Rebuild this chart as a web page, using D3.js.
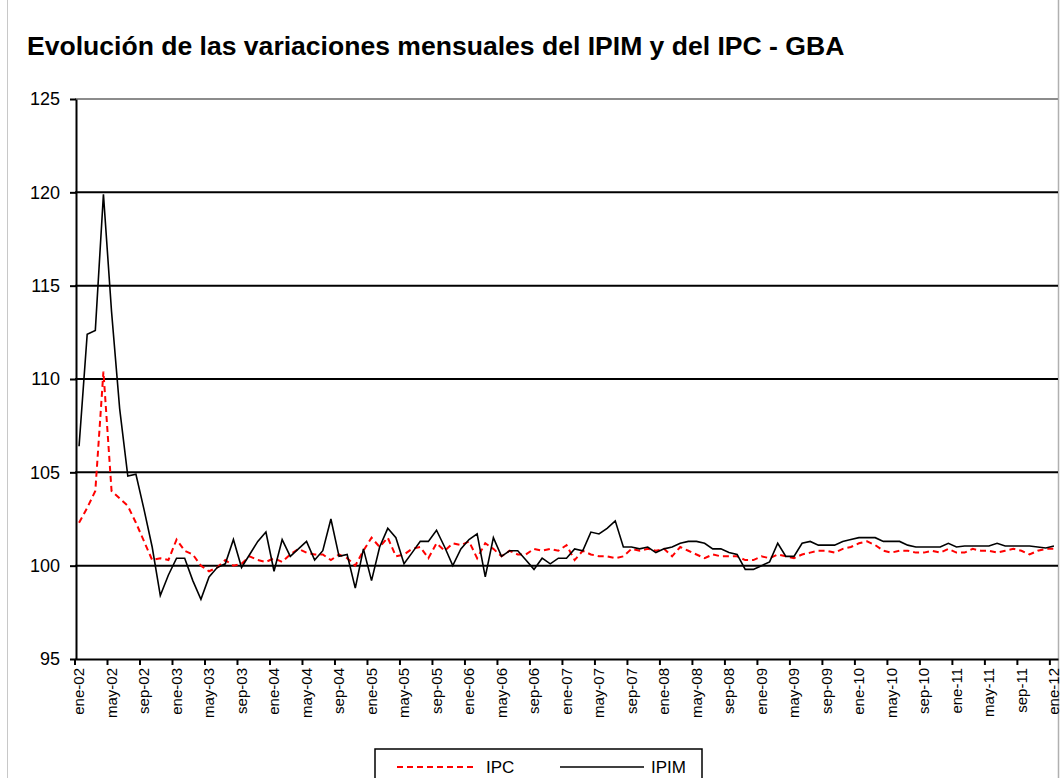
<!DOCTYPE html>
<html>
<head>
<meta charset="utf-8">
<script src="https://d3js.org/d3.v7.min.js"></script>
<title>IPIM e IPC - GBA</title>
<style>
  body { margin: 0; background: #fff; font-family: "Liberation Sans", Arial, sans-serif; }
  svg text { fill: #000; }
</style>
</head>
<body>
<svg id="chart" width="1061" height="778"></svg>
<script>
// month abbreviations and years used to build the category axis
var monthNames = ["ene","feb","mar","abr","may","jun","jul","ago","sep","oct","nov","dic"];
var years = ["02","03","04","05","06","07","08","09","10","11","12"];

// IPC - GBA, monthly variation (index, previous month = 100)
var ipc = [102.3,103.1,104.0,110.4,104.0,103.6,103.2,102.3,101.3,100.3,100.4,100.3,
           101.4,100.8,100.6,100.0,99.7,99.9,100.3,100.0,100.1,100.5,100.3,100.2,
           100.4,100.2,100.6,100.9,100.7,100.6,100.6,100.3,100.6,100.4,100.0,100.8,
           101.5,101.0,101.5,100.5,100.6,100.9,101.0,100.4,101.2,100.8,101.2,101.1,
           101.3,100.4,101.2,100.9,100.5,100.8,100.6,100.6,100.9,100.8,100.9,100.8,
           101.1,100.3,100.8,100.6,100.5,100.5,100.4,100.5,100.9,100.8,100.9,100.8,
           100.9,100.5,101.0,100.8,100.6,100.4,100.6,100.5,100.5,100.5,100.3,100.3,
           100.5,100.4,100.6,100.5,100.4,100.6,100.7,100.8,100.8,100.7,100.9,101.0,
           101.2,101.3,101.1,100.8,100.7,100.8,100.8,100.7,100.7,100.8,100.7,100.9,
           100.7,100.7,100.9,100.8,100.8,100.7,100.8,100.9,100.8,100.6,100.8,100.9,
           100.9];

// IPIM, monthly variation (index, previous month = 100)
var ipim = [106.4,112.4,112.6,119.9,113.6,108.4,104.8,104.9,103.0,101.0,98.4,99.5,
            100.4,100.4,99.2,98.2,99.4,99.9,100.1,101.4,99.9,100.6,101.3,101.8,
            99.7,101.4,100.5,100.9,101.3,100.3,100.8,102.5,100.5,100.6,98.8,100.9,
            99.2,101.0,102.0,101.5,100.1,100.7,101.3,101.3,101.9,101.0,100.0,100.9,
            101.4,101.7,99.4,101.5,100.5,100.8,100.8,100.3,99.8,100.4,100.1,100.4,
            100.4,100.9,100.8,101.8,101.7,102.0,102.4,101.0,101.0,100.9,101.0,100.7,
            100.9,101.0,101.2,101.3,101.3,101.2,100.9,100.9,100.7,100.6,99.8,99.8,
            100.0,100.2,101.2,100.5,100.5,101.2,101.3,101.1,101.1,101.1,101.3,101.4,
            101.5,101.5,101.5,101.3,101.3,101.3,101.1,101.0,101.0,101.0,101.0,101.2,
            101.0,101.05,101.05,101.05,101.05,101.2,101.05,101.05,101.05,101.05,101.0,100.95,
            101.05];

var yTicks = [95, 100, 105, 110, 115, 120, 125];
var seriesNames = ["IPC", "IPIM"];
var titleText = "Evolución de las variaciones mensuales del IPIM y del IPC - GBA";

// categories "ene-02" ... "ene-12"
var months = [];
years.forEach(function(y) {
  monthNames.forEach(function(m) { months.push(m + "-" + y); });
});
months = months.slice(0, ipim.length);

var svg = d3.select("#chart");

var x = d3.scaleBand().domain(months).range([75, 1058]).padding(0);
var y = d3.scaleLinear().domain([95, 125]).range([659, 99]);
var bw = x.bandwidth();

// sheet borders
svg.append("line").attr("x1", 7.5).attr("x2", 7.5).attr("y1", 0).attr("y2", 778)
  .attr("stroke", "#c8c8c8").attr("stroke-width", 1);
svg.append("line").attr("x1", 1058.5).attr("x2", 1058.5).attr("y1", 0).attr("y2", 778)
  .attr("stroke", "#b0b0b0").attr("stroke-width", 1.5);

// title, fitted to the width it takes in the original
var title = svg.append("text")
  .attr("x", 27).attr("y", 55)
  .style("font-weight", "bold")
  .style("font-size", "20px")
  .text(titleText);
var tw = title.node().getComputedTextLength();
title.style("font-size", (20 * 818 / tw) + "px");

// gridlines
svg.append("g").selectAll("line")
  .data(yTicks.filter(function(t) { return t > 95; }))
  .enter().append("line")
  .attr("x1", 75).attr("x2", 1058)
  .attr("y1", function(d) { return y(d); })
  .attr("y2", function(d) { return y(d); })
  .attr("stroke", function(d) { return d == 125 ? "#8c8c8c" : "#000"; })
  .attr("stroke-width", 2);

// y axis
var yAxis = svg.append("g")
  .attr("transform", "translate(76,0)")
  .call(d3.axisLeft(y).tickValues(yTicks).tickSize(6).tickSizeOuter(0).tickPadding(10));
yAxis.select(".domain").attr("stroke", "#000").attr("stroke-width", 2);
yAxis.selectAll(".tick line").attr("stroke", "#000").attr("stroke-width", 2);
yAxis.selectAll(".tick text")
  .style("font-family", "'Liberation Sans', Arial, sans-serif")
  .style("font-size", "18px");

// x axis
var xAxis = svg.append("g")
  .attr("transform", "translate(0,659)")
  .call(d3.axisBottom(x)
    .tickValues(months.filter(function(m, i) { return i % 4 == 0; }))
    .tickSize(6).tickSizeOuter(0));
xAxis.select(".domain").attr("stroke", "#000").attr("stroke-width", 2);
xAxis.selectAll(".tick line")
  .attr("x1", -bw / 2).attr("x2", -bw / 2)
  .attr("stroke", "#000").attr("stroke-width", 2);
xAxis.selectAll(".tick text")
  .attr("transform", "rotate(-90)")
  .attr("x", -9).attr("y", 0).attr("dy", "0.35em")
  .style("text-anchor", "end")
  .style("font-family", "'Liberation Sans', Arial, sans-serif")
  .style("font-size", "15px");

// series
var line = d3.line()
  .x(function(d, i) { return x(months[i]) + bw / 2; })
  .y(function(d) { return y(d); });

svg.append("path").datum(ipc)
  .attr("d", line)
  .attr("fill", "none")
  .attr("stroke", "#ff0000")
  .attr("stroke-width", 2)
  .attr("stroke-dasharray", "6,4");

svg.append("path").datum(ipim)
  .attr("d", line)
  .attr("fill", "none")
  .attr("stroke", "#000")
  .attr("stroke-width", 1.6);

// legend
var legend = svg.append("g");
legend.append("rect")
  .attr("x", 375).attr("y", 749).attr("width", 327).attr("height", 40)
  .attr("fill", "#fff").attr("stroke", "#000").attr("stroke-width", 1.5);
var legItems = [
  {name: seriesNames[0], x1: 397, x2: 475, tx: 486, color: "#ff0000", dash: "6,4", w: 2},
  {name: seriesNames[1], x1: 560, x2: 644, tx: 651, color: "#000", dash: null, w: 1.6}
];
legItems.forEach(function(it) {
  legend.append("line")
    .attr("x1", it.x1).attr("x2", it.x2).attr("y1", 767).attr("y2", 767)
    .attr("stroke", it.color).attr("stroke-width", it.w)
    .attr("stroke-dasharray", it.dash);
  legend.append("text")
    .attr("x", it.tx).attr("y", 773)
    .style("font-size", "17px")
    .text(it.name);
});
</script>
</body>
</html>
